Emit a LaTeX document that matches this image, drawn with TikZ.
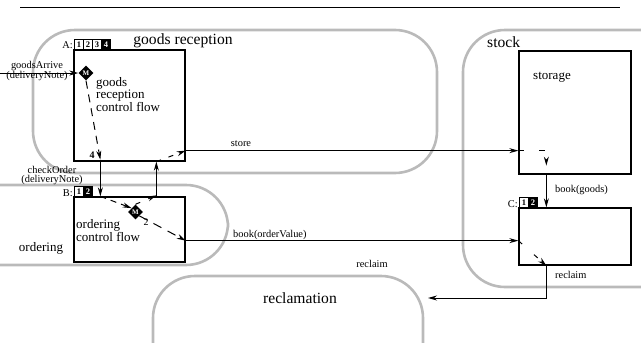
\documentclass[tikz,border=0pt]{standalone}
\usepackage{fontspec}
\setmainfont{Liberation Serif}
\usetikzlibrary{arrows.meta,calc,shapes.geometric}

\begin{document}
\begin{tikzpicture}[x=1pt,y=-1pt,
    region/.style={draw=black!27, line width=2.6pt, rounded corners=42pt},
    box/.style={draw, line width=1.3pt, inner sep=0pt},
    flow/.style={-{Stealth[length=9pt,width=5pt]}, line width=1pt},
    ctrl/.style={flow, dash pattern=on 8pt off 6pt},
    lbl/.style={font=\fontsize{10.4}{9}\selectfont, inner sep=0pt},
    big/.style={font=\fontsize{15.6}{16}\selectfont, inner sep=0pt},
    mid/.style={font=\fontsize{13}{11}\selectfont, inner sep=0pt, align=left},
    cell/.style={draw, line width=1.1pt, fill=white, minimum width=9pt, minimum height=10pt,
      inner sep=0pt, anchor=south west, font=\fontsize{8.5}{8}\selectfont\bfseries},
    cellon/.style={cell, fill=black, text=white},
    merge/.style={diamond, fill=black, text=white, inner sep=0pt, minimum size=15pt,
      font=\fontsize{7}{7}\selectfont\bfseries}]
  \useasboundingbox (0,0) rectangle (641,343);
  \draw [line width=0.8pt] (20,7) -- (620,7);

  \draw [region] (33,30) rectangle (437,173);
  \draw [region] (463,30) rectangle (690,287);
  \draw [region] (-60,185) rectangle (228,265);
  \draw [region] (153,276) rectangle (423,390);
  \node [big] (recTitle) at (183,41) {goods reception};
  \node [big, anchor=west] (stockTitle) at (487,42) {stock};
  \node [mid] (ordTitle) at (41,248) {ordering};
  \node [big] (reclTitle) at (300,298) {reclamation};

  \node [box, minimum width=111pt, minimum height=111pt] (boxA) at (129.5,105.5) {};
  \node [box, minimum width=111pt, minimum height=65pt] (boxB) at (129.5,229.5) {};
  \node [box, minimum width=112pt, minimum height=123pt] (storage) at (575,112.5) {};
  \node [box, minimum width=112pt, minimum height=57pt] (boxC) at (575,236.5) {};
  \node [mid] (storTitle) at (552,77) {storage};
  \node [mid, anchor=north west] (aText) at (96,77) {goods\\reception\\control flow};
  \node [mid, anchor=north west] (bText) at (76,219) {ordering\\control flow};

  \node [lbl, anchor=east] (aTag) at (73,45) {A:};
  \node [cell] (a1) at (74,50) {1};
  \node [cell] (a2) at (83,50) {2};
  \node [cell] (a3) at (92,50) {3};
  \node [cellon] (a4) at (101,50) {4};
  \node [lbl, anchor=east] (bTag) at (73,193) {B:};
  \node [cell] (b1) at (74,197) {1};
  \node [cellon] (b2) at (83,197) {2};
  \node [lbl, anchor=east] (cTag) at (518,204) {C:};
  \node [cell] (c1) at (519,208) {1};
  \node [cellon] (c2) at (528,208) {2};

  \node [merge] (dmA) at (86,73) {M};
  \node [merge] (dmB) at (135.5,212) {M};
  \node [font=\fontsize{10}{10}\selectfont, inner sep=0pt] (two) at (146,222) {2};
  \node [font=\fontsize{10}{10}\selectfont\bfseries, inner sep=0pt] (four) at (92,155) {4};

  \coordinate (src) at (0,73);
  \draw [flow] (src) -- (dmA.west);
  \node [lbl, align=center] (arrLbl) at (37,71) {goodsArrive\\(deliveryNote)};
  \draw [ctrl] (dmA.south) -- ($(boxA.south west)+(27,-2)$);

  \draw [flow] ($(boxA.south west)+(27,0)$) -- ($(boxB.north west)+(27,0)$);
  \node [lbl, align=center] (chkLbl) at (52,176) {checkOrder\\(deliveryNote)};
  \draw [ctrl, dash pattern=on 6pt off 5pt] ($(boxB.north west)+(27,0)$) -- (dmB.north west);
  \draw [ctrl, dash pattern=on 5pt off 9pt] (dmB.north) -- ($(boxB.north west)+(83,-1)$);
  \draw [ctrl, dash pattern=on 9pt off 7pt] (dmB.south east) -- ($(boxB.south east)+(0,-22)$);
  \draw [flow] ($(boxB.north west)+(83,0)$) -- ($(boxA.south west)+(83,0)$);
  \draw [ctrl, dash pattern=on 5pt off 8pt] ($(boxA.south west)+(83,0)$) -- ($(boxA.south east)+(0,-11)$);

  \draw [flow] ($(boxA.south east)+(0,-11)$) coordinate (st) -- (st -| storage.west);
  \node [lbl] (storeLbl) at (241,144) {store};
  \draw [ctrl, dash pattern=on 6pt off 15pt] (st -| storage.west) -| ($(storage.south west)+(28,-9)$);
  \draw [flow] ($(storage.south west)+(28,0)$) -- ($(boxC.north west)+(28,0)$);
  \node [lbl, anchor=west] (goodsLbl) at (555,190) {book(goods)};

  \draw [flow] ($(boxB.south east)+(0,-22)$) coordinate (bo) -- (bo -| boxC.west);
  \node [lbl, anchor=west] (valLbl) at (233,235) {book(orderValue)};
  \draw [ctrl, dash pattern=on 5pt off 16pt] (bo -| boxC.west) -- ($(boxC.south west)+(28,0)$);

  \coordinate (recl) at (428,298);
  \draw [flow] ($(boxC.south west)+(28,0)$) |- (recl);
  \node [lbl, anchor=west] (reclLbl) at (555,275) {reclaim};
  \node [lbl] (reclLbl2) at (372,264) {reclaim};
\end{tikzpicture}
\end{document}
